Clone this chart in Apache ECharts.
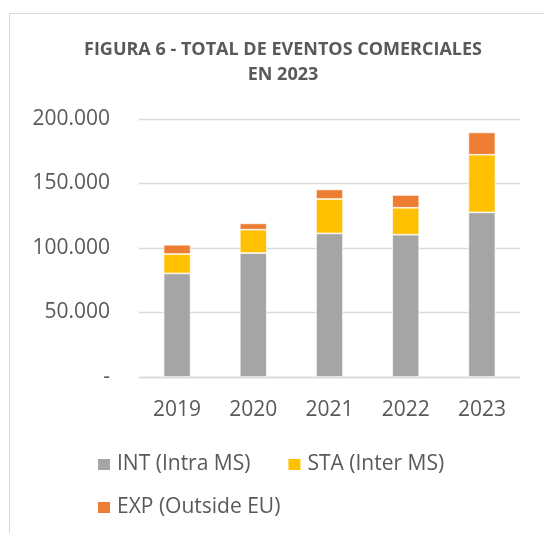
<!DOCTYPE html>
<html>
<head>
<meta charset="utf-8">
<script src="https://cdn.jsdelivr.net/npm/echarts@6/dist/echarts.min.js"></script>
<style>
    html, body { margin: 0; padding: 0; background: #fff; }
    #myChart { width: 544px; height: 533px; }
</style>
</head>
<body>
<div id="myChart"></div>
<script>
// datos
var years = ['2019', '2020', '2021', '2022', '2023'];
var intValues = [80300, 96100, 111300, 110300, 127600];
var staValues = [15000, 18100, 26700, 20900, 44700];
var expValues = [7200, 4900, 7400, 9900, 17300];
var seriesNames = ['INT (Intra MS)', 'STA (Inter MS)', 'EXP (Outside EU)'];
var colors = ['#A5A5A5', '#FFC000', '#ED7D31'];

var font = 'Open Sans';
var textColor = '#595959';

function fmtMiles(v) {
    if (v === 0) return '-';
    return String(v).replace(/\B(?=(\d{3})+(?!\d))/g, '.');
}

var myChart = echarts.init(document.getElementById('myChart'));

var series = [intValues, staValues, expValues].map(function (vals, i) {
    return {
        name: seriesNames[i],
        type: 'bar',
        stack: 'total',
        barWidth: 27,
        data: vals,
        itemStyle: { color: colors[i], borderColor: '#fff', borderWidth: 0.7 }
    };
});

var legendText = { fontFamily: font, fontSize: 21, color: textColor, padding: [0, 0, 0, 1] };

myChart.setOption({
    animation: false,
    title: {
        text: 'FIGURA 6 - TOTAL DE EVENTOS COMERCIALES\nEN 2023',
        left: 278,
        textAlign: 'center',
        top: 32,
        textStyle: {
            fontFamily: font,
            fontSize: 18,
            fontWeight: 'bold',
            color: textColor,
            lineHeight: 25
        }
    },
    legend: [
        {
            data: [seriesNames[0], seriesNames[1]],
            left: 96,
            top: 454,
            padding: 0,
            itemWidth: 14,
            itemHeight: 13,
            itemGap: 36,
            icon: 'rect',
            textStyle: legendText
        },
        {
            data: [seriesNames[2]],
            left: 96,
            top: 497,
            padding: 0,
            itemWidth: 14,
            itemHeight: 13,
            icon: 'rect',
            textStyle: legendText
        }
    ],
    grid: { left: 139, top: 119, width: 381, height: 258, containLabel: false },
    xAxis: {
        type: 'category',
        data: years,
        axisLine: { lineStyle: { color: '#d9d9d9', width: 1.3 } },
        axisTick: { show: false },
        axisLabel: { fontFamily: font, fontSize: 21, color: textColor, margin: 23 }
    },
    yAxis: {
        type: 'value',
        min: 0,
        max: 200000,
        interval: 50000,
        axisLine: { show: false },
        axisTick: { show: false },
        splitLine: { lineStyle: { color: '#d9d9d9', width: 1.3 } },
        axisLabel: {
            fontFamily: font, fontSize: 21, color: textColor, margin: 29,
            formatter: fmtMiles
        }
    },
    graphic: [
        { type: 'line', shape: { x1: 9, y1: 13.5, x2: 544, y2: 13.5 }, style: { stroke: '#d9d9d9', lineWidth: 1 } },
        { type: 'line', shape: { x1: 9.5, y1: 13, x2: 9.5, y2: 533 }, style: { stroke: '#d9d9d9', lineWidth: 1 } }
    ],
    series: series
});
</script>
</body>
</html>
